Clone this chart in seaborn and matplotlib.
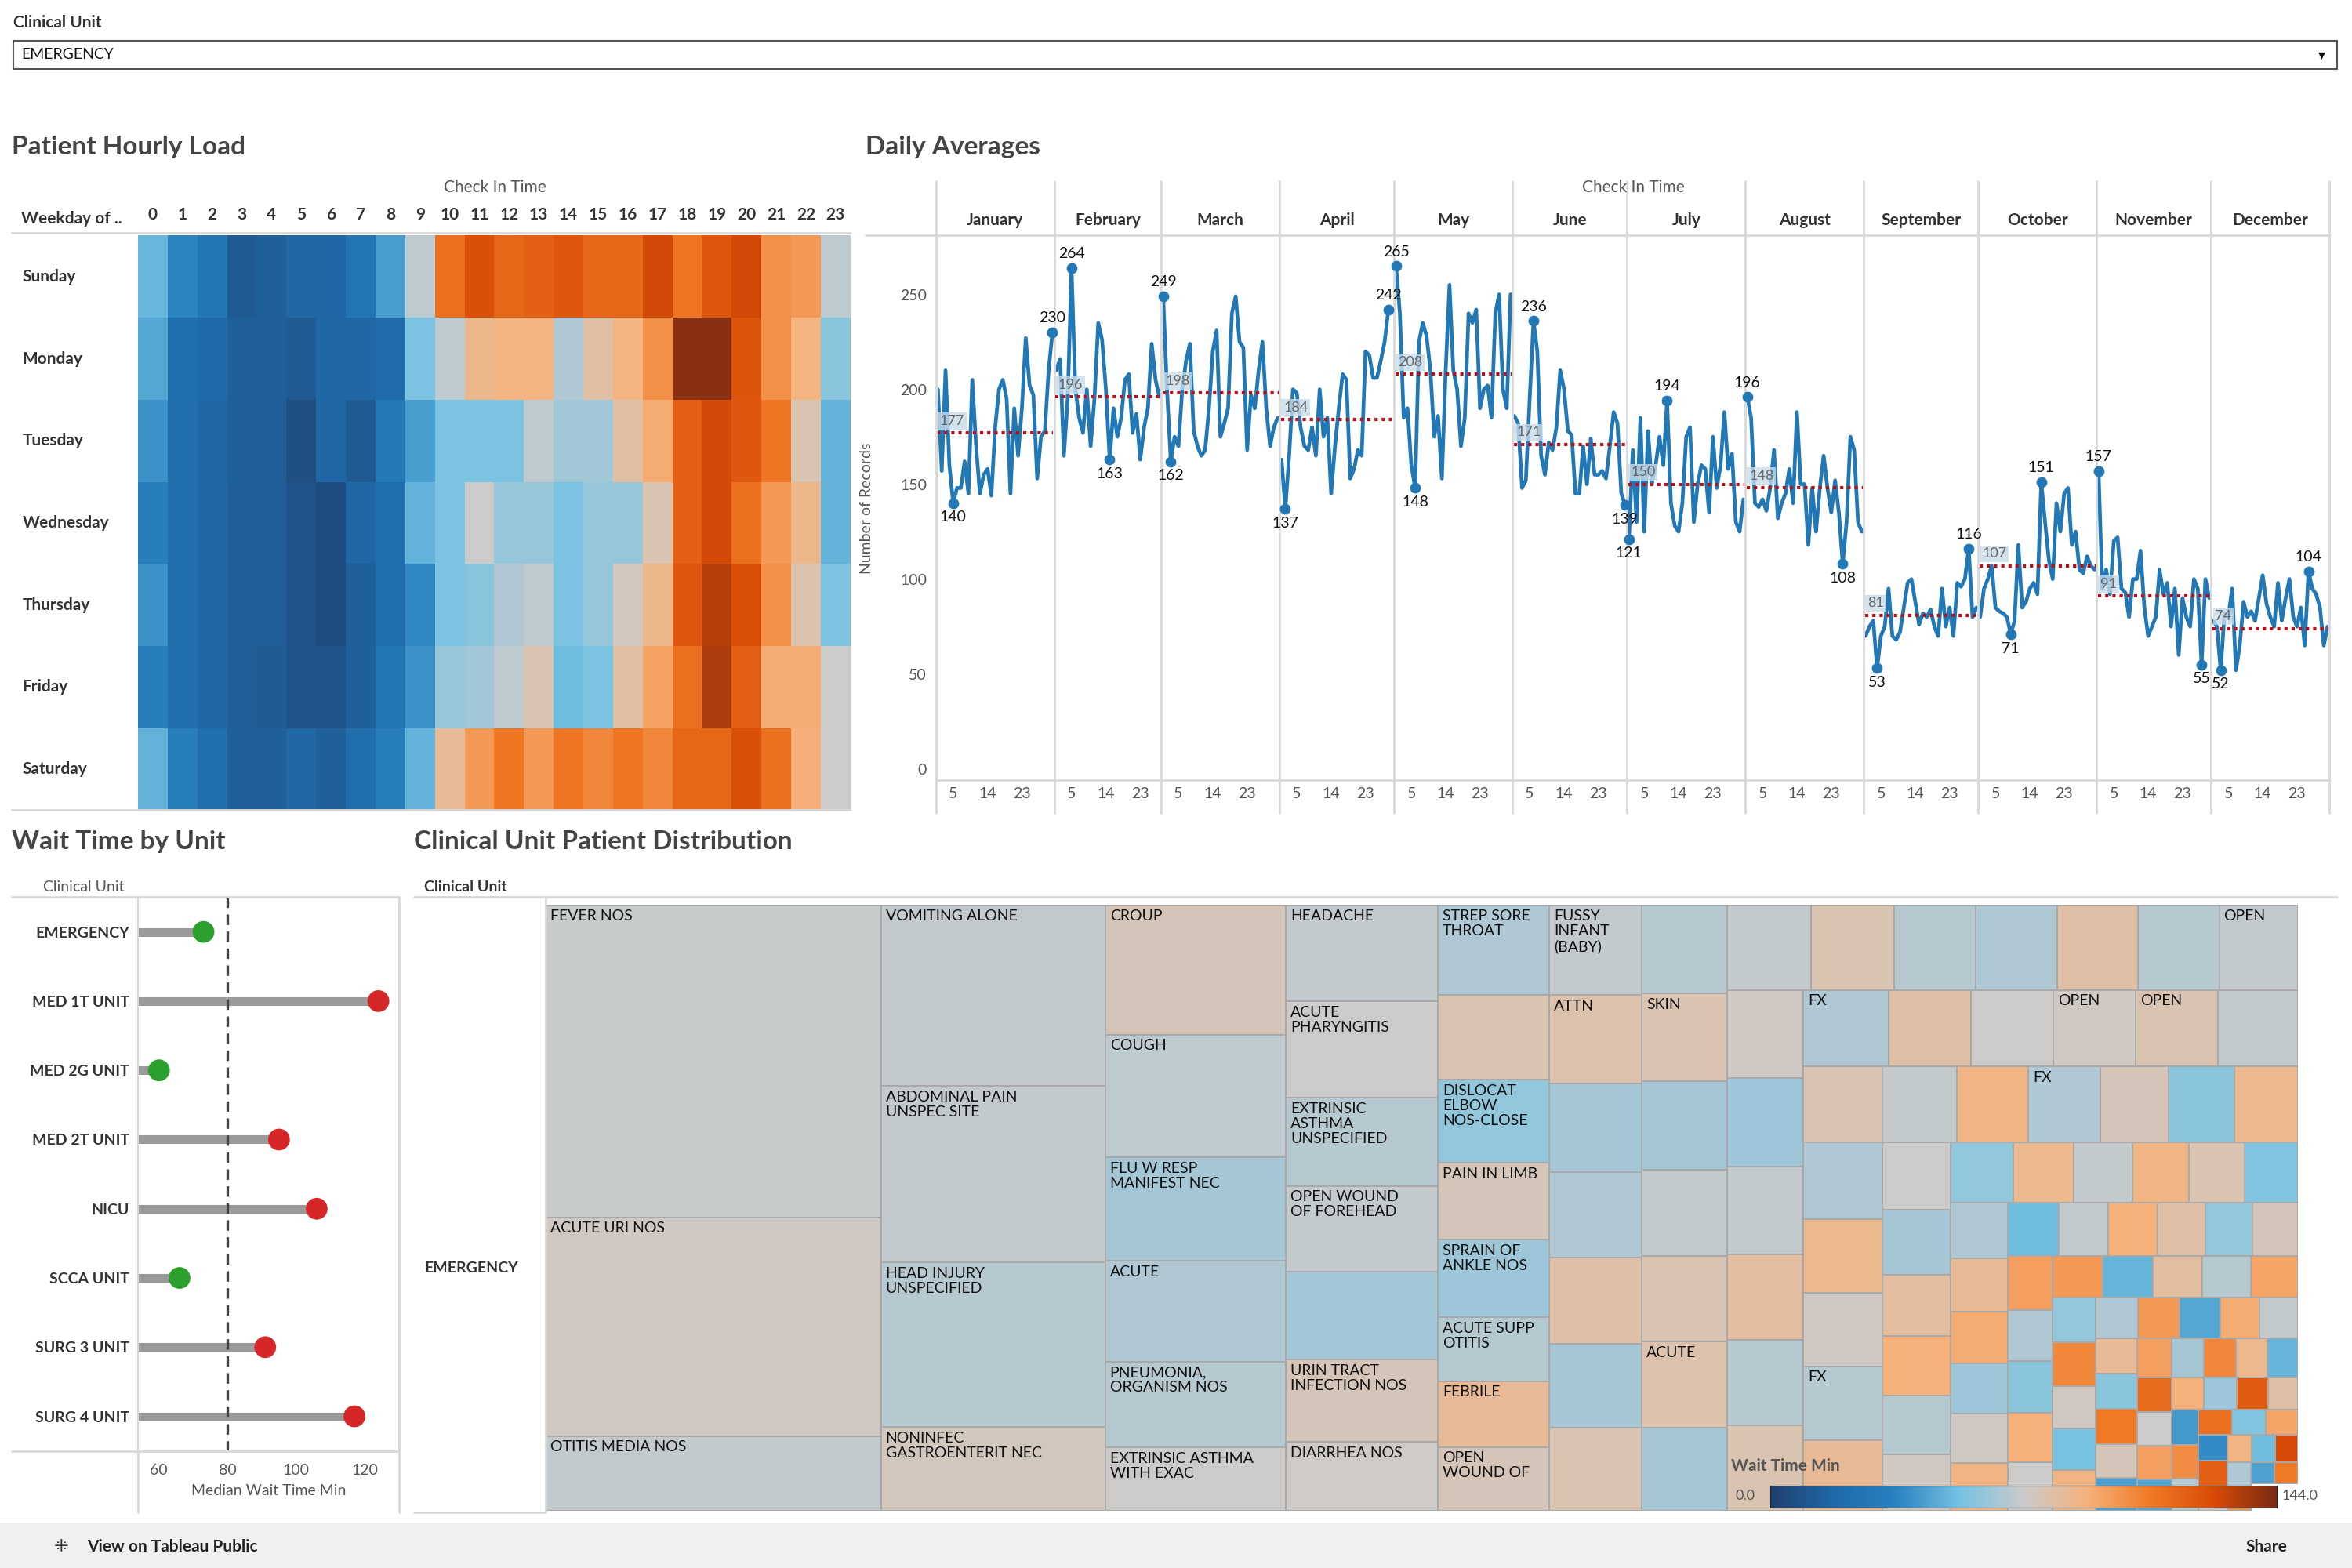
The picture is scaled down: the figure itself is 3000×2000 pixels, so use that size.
import matplotlib
matplotlib.use("Agg")
import matplotlib.pyplot as plt
from matplotlib.colors import LinearSegmentedColormap
from matplotlib.patches import Rectangle
import numpy as np
import pandas as pd
import seaborn as sns

# ---------------- data ----------------
weekdays = ["Sunday", "Monday", "Tuesday", "Wednesday", "Thursday", "Friday", "Saturday"]
hours = list(range(24))
hourly_load = [
    [35, 25, 18, 8, 10, 12, 12, 18, 30, 48, 78, 86, 80, 82, 84, 80, 80, 88, 76, 84, 88, 70, 68, 48],
    [32, 15, 13, 10, 10, 8, 12, 12, 14, 38, 48, 60, 62, 62, 46, 56, 62, 70, 98, 98, 85, 70, 62, 40],
    [28, 15, 12, 10, 9, 5, 12, 8, 20, 30, 38, 38, 38, 48, 44, 44, 56, 64, 82, 88, 84, 76, 54, 34],
    [22, 15, 12, 9, 9, 6, 4, 12, 15, 34, 38, 50, 42, 42, 38, 42, 42, 54, 82, 88, 78, 68, 60, 34],
    [28, 15, 12, 9, 9, 6, 4, 10, 15, 26, 38, 40, 46, 48, 38, 42, 52, 60, 84, 92, 86, 70, 55, 38],
    [22, 15, 12, 9, 8, 6, 6, 10, 18, 28, 42, 44, 48, 54, 36, 38, 56, 66, 78, 93, 82, 64, 64, 50],
    [34, 22, 15, 10, 10, 12, 10, 15, 22, 34, 58, 68, 76, 68, 76, 72, 76, 72, 80, 80, 86, 78, 63, 50],
]

months = ["January", "February", "March", "April", "May", "June", "July",
          "August", "September", "October", "November", "December"]
jan = [200, 157, 210, 160, 140, 148, 148, 162, 145, 205, 170, 145, 155, 158, 144, 180,
       200, 205, 195, 145, 190, 165, 190, 227, 202, 197, 153, 175, 178, 210, 230]
feb = [210, 216, 165, 195, 264, 200, 185, 177, 200, 170, 195, 235, 226, 200, 163, 190,
       175, 185, 205, 208, 177, 187, 163, 180, 190, 224, 205, 196]
mar = [249, 200, 162, 175, 170, 200, 215, 224, 178, 170, 165, 168, 190, 220, 231, 175,
       182, 190, 240, 249, 225, 222, 168, 197, 190, 210, 225, 190, 170, 180, 185]
apr = [163, 137, 165, 200, 198, 180, 170, 168, 180, 165, 200, 175, 185, 145, 170, 190,
       208, 205, 153, 158, 168, 165, 220, 218, 206, 206, 215, 225, 242, 242]
may = [265, 240, 185, 190, 160, 148, 225, 235, 228, 210, 175, 186, 153, 210, 255, 210,
       200, 170, 185, 240, 235, 242, 190, 200, 202, 185, 240, 250, 200, 190, 250]
jun = [186, 182, 148, 152, 195, 236, 220, 165, 155, 172, 168, 180, 210, 200, 178, 176,
       145, 145, 170, 150, 174, 155, 155, 157, 153, 170, 188, 182, 145, 139]
jul = [121, 168, 130, 185, 125, 178, 150, 160, 175, 160, 194, 140, 128, 125, 140, 175,
       180, 130, 150, 160, 158, 135, 175, 148, 160, 188, 158, 166, 130, 125, 142]
aug = [196, 185, 140, 138, 142, 136, 148, 168, 132, 140, 145, 158, 140, 188, 150, 150,
       118, 148, 125, 148, 165, 148, 135, 152, 135, 108, 130, 175, 168, 130, 125]
sep = [70, 75, 78, 53, 70, 75, 95, 70, 68, 72, 85, 98, 100, 88, 76, 82,
       80, 84, 75, 70, 95, 75, 85, 70, 98, 96, 100, 116, 80, 85]
octo = [80, 95, 100, 107, 85, 83, 82, 80, 71, 78, 118, 85, 88, 95, 98, 92,
        151, 130, 110, 100, 140, 125, 145, 148, 118, 125, 105, 103, 112, 107, 105]
nov = [157, 95, 105, 92, 120, 122, 95, 93, 80, 100, 100, 115, 85, 70, 75, 80,
       105, 92, 98, 75, 95, 60, 90, 80, 75, 100, 95, 55, 100, 90]
dec = [78, 75, 52, 82, 80, 95, 52, 65, 88, 80, 83, 78, 90, 102, 87, 80,
       75, 98, 78, 90, 100, 80, 75, 85, 65, 104, 95, 92, 85, 65, 75]
daily_counts = [jan, feb, mar, apr, may, jun, jul, aug, sep, octo, nov, dec]
month_avgs = [177, 196, 198, 184, 208, 171, 150, 148, 81, 107, 91, 74]
day_ticks = [5, 14, 23]

units = ["EMERGENCY", "MED 1T UNIT", "MED 2G UNIT", "MED 2T UNIT", "NICU",
         "SCCA UNIT", "SURG 3 UNIT", "SURG 4 UNIT"]
median_wait = [73, 124, 60, 95, 106, 66, 91, 117]
wait_target = 80

# treemap: the large diagnoses, grouped in the columns Tableau draws them in
tm_col_names = [
    ["FEVER NOS", "ACUTE URI NOS", "OTITIS MEDIA NOS"],
    ["VOMITING ALONE", "ABDOMINAL PAIN\nUNSPEC SITE", "HEAD INJURY\nUNSPECIFIED",
     "NONINFEC\nGASTROENTERIT NEC"],
    ["CROUP", "COUGH", "FLU W RESP\nMANIFEST NEC", "ACUTE", "PNEUMONIA,\nORGANISM NOS",
     "EXTRINSIC ASTHMA\nWITH EXAC"],
    ["HEADACHE", "ACUTE\nPHARYNGITIS", "EXTRINSIC\nASTHMA\nUNSPECIFIED",
     "OPEN WOUND\nOF FOREHEAD", "", "URIN TRACT\nINFECTION NOS", "DIARRHEA NOS"],
    ["STREP SORE\nTHROAT", "", "DISLOCAT\nELBOW\nNOS-CLOSE", "PAIN IN LIMB",
     "SPRAIN OF\nANKLE NOS", "ACUTE SUPP\nOTITIS", "FEBRILE", "OPEN\nWOUND OF"],
]
tm_col_sizes = [
    [50, 35, 12],
    [19.4, 18.9, 17.6, 9],
    [11.2, 10.6, 8.9, 8.7, 7.4, 5.5],
    [7, 7, 6.4, 6.2, 6.4, 6, 5],
    [4.8, 4.5, 4.4, 4.1, 4.1, 3.4, 3.5, 3.4],
]
tm_col_waits = [
    [71, 74, 70],
    [70, 70, 68, 75],
    [76, 69, 64, 66, 68, 72],
    [70, 72, 68, 70, 63, 76, 73],
    [66, 78, 60, 76, 62, 67, 84, 76],
]
rest_names = ["FUSSY\nINFANT\n(BABY)", "ATTN", "", "", "", "", "", "", "SKIN", "", "", "",
              "ACUTE", "", "", "", "", "", "", "", "OPEN", "", "", "", "", "", "", "FX", "", "",
              "OPEN", "OPEN", "", "", "", "", "", "FX", "", "", "", "FX"]
rest_sizes = [4.0, 3.9, 3.9, 3.8, 3.8, 3.7, 3.7, 3.6, 3.6, 3.6, 3.5, 3.5,
              3.5, 3.4, 3.4, 3.4, 3.3, 3.3, 3.3, 3.3, 3.2, 3.2, 3.2, 3.2, 3.1, 3.1, 3.1,
              3.1, 3.0, 3.0, 3.0, 3.0, 2.9, 2.9, 2.9, 2.8, 2.8, 2.8, 2.7, 2.7, 2.6, 2.6,
              2.5, 2.4, 2.3, 2.2, 2.1, 2.0, 1.95, 1.9, 1.85, 1.8, 1.75, 1.7, 1.65, 1.6, 1.55, 1.5,
              1.45, 1.4, 1.35, 1.35, 1.3, 1.3, 1.25, 1.25, 1.2, 1.2, 1.15, 1.15, 1.1, 1.1, 1.05, 1.05,
              1.0, 1.0, 0.98, 0.96, 0.94, 0.92, 0.9, 0.88, 0.86, 0.84, 0.82, 0.8, 0.78, 0.76, 0.74,
              0.72, 0.7, 0.7, 0.68, 0.66, 0.64, 0.62, 0.6, 0.6, 0.58, 0.56, 0.55, 0.54,
              0.52, 0.5, 0.5, 0.48, 0.46, 0.45, 0.44, 0.42, 0.4, 0.4, 0.38, 0.36, 0.35, 0.34,
              0.32, 0.3, 0.3, 0.28, 0.26, 0.25, 0.24, 0.22, 0.2, 0.2]
rest_waits = [70, 79, 64, 66, 80, 64, 78, 68, 78, 64, 70, 78,
              79, 64, 70, 78, 68, 66, 80, 68, 70, 74, 62, 70, 82, 68, 78,
              66, 80, 72, 74, 78, 70, 78, 66, 86, 74, 68, 84, 70, 88, 66,
              76, 58, 86, 72, 64, 82, 90, 68, 74, 60, 86, 70, 88, 78, 56,
              66, 84, 92, 62, 74, 88, 52, 70, 90, 80, 60, 76, 96, 66, 58, 90,
              72, 98, 50, 82, 68, 94, 60, 104, 74, 54, 88, 66, 98, 46, 92, 70,
              84, 58, 108, 76, 44, 96, 64, 104, 86, 50, 114, 72, 96, 46, 90, 62,
              120, 80, 42, 102, 68, 112, 56, 94, 38, 118, 74, 88, 52, 126, 66, 100, 44, 108]

# ---------------- style ----------------
sns.set_style("white")
plt.rcParams["font.family"] = ["Lato", "DejaVu Sans"]
TXT = "#333333"
GRID = "#d9d9d9"
tab_cmap = LinearSegmentedColormap.from_list(
    "tab_ob", ["#20406e", "#1f69a8", "#2b83c1", "#77c3e2", "#cbcbcb",
               "#f6b27c", "#f07a26", "#d94b06", "#7a2b14"])

W, H = 1568, 1045
fig = plt.figure(figsize=(30, 20), dpi=100)


def box(x0, y0, x1, y1):
    return [x0 / W, 1 - y1 / H, (x1 - x0) / W, (y1 - y0) / H]


def ft(x, y, s, **kw):
    kw.setdefault("color", TXT)
    kw.setdefault("va", "center")
    fig.text(x / W, 1 - y / H, s, **kw)


def hline(x0, x1, y, color=GRID, lw=2):
    fig.add_artist(plt.Line2D([x0 / W, x1 / W], [1 - y / H, 1 - y / H], color=color, lw=lw))


def vline(x, y0, y1, color=GRID, lw=2):
    fig.add_artist(plt.Line2D([x / W, x / W], [1 - y0 / H, 1 - y1 / H], color=color, lw=lw))


# top filter
ft(9, 15, "Clinical Unit", fontsize=15, fontweight="bold")
fig.add_artist(Rectangle((9 / W, 1 - 46 / H), (1558 - 9) / W, 19 / H, transform=fig.transFigure,
                         fill=False, edgecolor="#555555", lw=1.5))
ft(14, 36.5, "EMERGENCY", fontsize=14, color="#111111")
ft(1548, 36.5, "▾", fontsize=13, ha="center", color="#111111")

# ---------------- heatmap ----------------
ft(8, 98, "Patient Hourly Load", fontsize=24, fontweight="bold", color="#444444")
ft(330, 125, "Check In Time", fontsize=15, ha="center", color="#555555")
ft(14, 146, "Weekday of ..", fontsize=15, fontweight="bold")
hline(8, 567, 155)
ax_h = fig.add_axes(box(92, 157, 567, 540))
hm = pd.DataFrame(hourly_load, index=weekdays, columns=hours)
sns.heatmap(hm, ax=ax_h, cmap=tab_cmap, vmin=0, vmax=100, cbar=False)
ax_h.xaxis.tick_top()
ax_h.set_xlabel("")
ax_h.set_ylabel("")
ax_h.tick_params(axis="x", length=0, labelsize=15, pad=12, labelcolor=TXT)
ax_h.tick_params(axis="y", length=0, labelsize=15, pad=0, labelcolor=TXT)
for lab in ax_h.get_xticklabels():
    lab.set_fontweight("bold")
ax_h.set_yticklabels([])
for i, d in enumerate(weekdays):
    ax_h.text(-77 / 475 * 24, i + 0.5, d, fontsize=15, fontweight="bold", color=TXT,
              va="center", ha="left", clip_on=False)
hline(8, 567, 540)

# ---------------- daily line ----------------
ft(577, 98, "Daily Averages", fontsize=24, fontweight="bold", color="#444444")
ft(1089, 125, "Check In Time", fontsize=15, ha="center", color="#555555")
ax_l = fig.add_axes(box(624, 157, 1553, 520))
rows = []
starts = []
pos = 0
for m, vals in zip(months, daily_counts):
    starts.append(pos)
    for d, v in enumerate(vals, start=1):
        rows.append({"month": m, "day": d, "x": pos + d - 0.5, "count": v})
    pos += len(vals)
total_days = pos
df = pd.DataFrame(rows)
sns.lineplot(data=df, x="x", y="count", units="month", estimator=None, ax=ax_l,
             color="#2278b5", lw=3.4)
ax_l.set_xlim(0, total_days)
ax_l.set_ylim(-6, 281)
ax_l.set_yticks([0, 50, 100, 150, 200, 250])
ax_l.tick_params(axis="y", labelsize=14, labelcolor="#555555", length=5, color=GRID)
ax_l.set_ylabel("Number of Records", fontsize=14, color="#555555")
ax_l.yaxis.set_label_coords(-0.045, 0.5)
ax_l.set_xlabel("")
xt, xl = [], []
for s, vals in zip(starts, daily_counts):
    for d in day_ticks:
        xt.append(s + d - 0.5)
        xl.append(str(d))
ax_l.set_xticks(xt)
ax_l.set_xticklabels(xl)
ax_l.tick_params(axis="x", labelsize=14, labelcolor="#555555", length=0, pad=6)
for sp in ["top", "right"]:
    ax_l.spines[sp].set_visible(False)
ax_l.spines["left"].set_color(GRID)
ax_l.spines["bottom"].set_color(GRID)
ax_l.spines["left"].set_linewidth(2)
ax_l.spines["bottom"].set_linewidth(2)
for s, m, vals, avg in zip(starts, months, daily_counts, month_avgs):
    e = s + len(vals)
    ax_l.axvline(s, color=GRID, lw=2)
    ax_l.plot([s + 0.3, e - 0.3], [avg, avg], ls=(0, (1, 1.2)), color="#b5121b", lw=3)
    ax_l.text(s + 1, avg + 3, str(avg), fontsize=13, color="#666666", va="bottom",
              bbox=dict(boxstyle="square,pad=0.15", fc="#c9dcea", ec="none", alpha=0.8))
    ax_l.text((s + e) / 2, 1.013, m, transform=ax_l.get_xaxis_transform(), fontsize=15,
              fontweight="bold", color=TXT, ha="center", va="bottom")
    ax_l.plot([s, s], [1.0, 1.1], transform=ax_l.get_xaxis_transform(), color=GRID, lw=2,
              clip_on=False)
    ax_l.plot([s, s], [0, -0.06], transform=ax_l.get_xaxis_transform(), color=GRID, lw=2,
              clip_on=False)
    imax = int(np.argmax(vals))
    imin = int(np.argmin(vals))
    for idx, off, va in [(imax, 4, "bottom"), (imin, -4, "top")]:
        ax_l.scatter(s + idx + 0.5, vals[idx], s=80, color="#2278b5", zorder=5)
        ax_l.text(s + idx + 0.5, vals[idx] + off, str(vals[idx]), fontsize=14, color="#111111",
                  ha="center", va=va)
ax_l.plot([total_days] * 2, [-0.06, 1.1], transform=ax_l.get_xaxis_transform(), color=GRID,
          lw=2, clip_on=False)
hline(577, 1553, 157)

# ---------------- lollipop ----------------
ft(8, 561, "Wait Time by Unit", fontsize=24, fontweight="bold", color="#444444")
ft(56, 591, "Clinical Unit", fontsize=14, ha="center", color="#555555")
hline(8, 266, 598)
ax_w = fig.add_axes(box(92, 598, 266, 967))
wdf = pd.DataFrame({"unit": units, "wait": median_wait})
wdf["status"] = np.where(wdf["wait"] < wait_target, "good", "bad")
xmin = 53.9
ax_w.hlines(y=range(len(units)), xmin=xmin, xmax=wdf["wait"], color="#9a9a9a", lw=8)
sns.scatterplot(data=wdf, x="wait", y=range(len(units)), hue="status",
                palette={"good": "#2ca02c", "bad": "#d62728"}, s=400, ax=ax_w, legend=False,
                edgecolor="none", zorder=5)
ax_w.axvline(wait_target, color="#444444", lw=2.4, ls=(0, (4, 2.5)))
ax_w.set_xlim(xmin, 130)
ax_w.set_ylim(len(units) - 0.5, -0.5)
ax_w.set_yticks(range(len(units)))
ax_w.set_yticklabels(units, fontsize=14, fontweight="bold", color=TXT)
ax_w.set_xticks([60, 80, 100, 120])
ax_w.tick_params(axis="x", labelsize=14, labelcolor="#555555", length=0, pad=12)
ax_w.tick_params(axis="y", length=0, pad=8)
ax_w.set_xlabel("Median Wait Time Min", fontsize=14, color="#555555", labelpad=6)
ax_w.set_ylabel("")
for sp in ax_w.spines.values():
    sp.set_color(GRID)
    sp.set_linewidth(1.5)
ax_w.spines["top"].set_visible(False)
hline(8, 266, 967)
vline(266, 598, 1008)
vline(92, 967, 1008)

# ---------------- treemap ----------------
ft(276, 561, "Clinical Unit Patient Distribution", fontsize=24, fontweight="bold", color="#444444")
ft(283, 591, "Clinical Unit", fontsize=14, fontweight="bold")
hline(276, 1558, 598)
vline(364, 598, 1008)
hline(276, 364, 1008)
ft(283, 845, "EMERGENCY", fontsize=14, fontweight="bold")

tw, th = 1532 - 364, 1007 - 603
ax_t = fig.add_axes(box(364, 603, 1532, 1007))
ax_t.set_xlim(0, tw)
ax_t.set_ylim(th, 0)
ax_t.axis("off")


def squarify(vals, x, y, w, h):
    vals = list(vals)
    rects = []
    while vals:
        short = min(w, h)

        def worst(r):
            s = sum(r)
            return max(max(short * short * v / (s * s), s * s / (short * short * v)) for v in r)

        row = [vals[0]]
        i = 1
        while i < len(vals) and worst(row + [vals[i]]) <= worst(row):
            row.append(vals[i])
            i += 1
        s = sum(row)
        if w >= h:
            cw = s / h
            yy = y
            for v in row:
                rects.append((x, yy, cw, v / cw))
                yy += v / cw
            x += cw
            w -= cw
        else:
            rh = s / w
            xx = x
            for v in row:
                rects.append((xx, y, v / rh, rh))
                xx += v / rh
            y += rh
            h -= rh
        vals = vals[i:]
    return rects


total = sum(sum(c) for c in tm_col_sizes) + sum(rest_sizes)
scale = tw * th / total
cells = []
cx = 0
for names, sizes, waits in zip(tm_col_names, tm_col_sizes, tm_col_waits):
    cw = sum(sizes) * scale / th
    cy = 0
    for nm, sz, wv in zip(names, sizes, waits):
        rh = sz * scale / cw
        cells.append((cx, cy, cw, rh, nm, wv))
        cy += rh
    cx += cw
rest_rects = squarify([v * scale for v in rest_sizes], cx, 0, tw - cx, th)
rest_labels = rest_names + [""] * (len(rest_sizes) - len(rest_names))
for (rx, ry, rw, rh), nm, wv in zip(rest_rects, rest_labels, rest_waits):
    cells.append((rx, ry, rw, rh, nm, wv))

for rx, ry, rw, rh, nm, wv in cells:
    ax_t.add_patch(Rectangle((rx, ry), rw, rh, facecolor=tab_cmap(wv / 144),
                             edgecolor="#a9a9a9", lw=1.4))
    if nm:
        ax_t.text(rx + 3, ry + 3, nm, fontsize=14, color="#111111", va="top", ha="left",
                  linespacing=1.15, clip_on=True)

# colour legend
ft(1154, 977, "Wait Time Min", fontsize=15, fontweight="bold", color="#555555")
ax_c = fig.add_axes(box(1180, 990, 1518, 1005))
ax_c.imshow(np.linspace(0, 1, 256)[None, :], aspect="auto", cmap=tab_cmap)
ax_c.set_xticks([])
ax_c.set_yticks([])
ft(1157, 997, "0.0", fontsize=13, color="#555555")
ft(1521, 997, "144.0", fontsize=13, color="#555555")

# footer
fig.add_artist(Rectangle((0, 0), 1, 30 / H, transform=fig.transFigure, color="#f0f0f0", zorder=-1))
ft(36, 1031, "⁜", fontsize=16, color="#333333")
ft(58, 1031, "View on Tableau Public", fontsize=15, fontweight="bold", color="#222222")
ft(1497, 1031, "Share", fontsize=15, fontweight="bold", color="#222222")

fig.savefig("out.png", dpi=100)
